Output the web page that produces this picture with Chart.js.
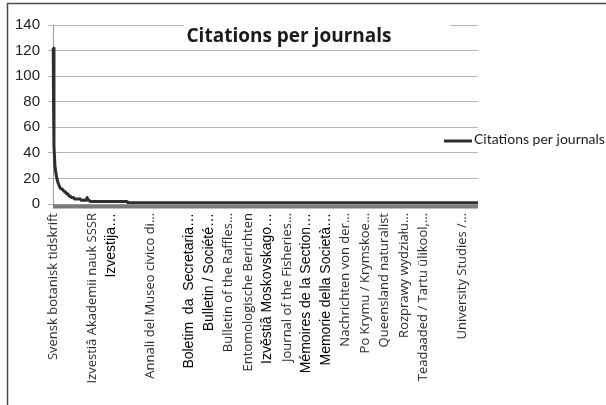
<!DOCTYPE html>
<html>
<head>
<meta charset="utf-8">
<title>Citations per journals</title>
<script src="https://cdn.jsdelivr.net/npm/chart.js@4.4.1/dist/chart.umd.min.js"></script>
<style>
  html, body { margin: 0; padding: 0; background: #fff; }
  #wrap { position: relative; width: 606px; height: 405px; }
</style>
</head>
<body>
<div id="wrap"><canvas id="chart" width="606" height="405"></canvas></div>
<script>
// Journals ranked by citations; only every 20th journal carries a label.
const journalsPerLabel = 20;
const tickLabels = [
  'Svensk botanisk tidskrift',
  '',
  'Izvestiâ Akademii nauk SSSR',
  'Izvestija…',
  '',
  'Annali del Museo civico di…',
  '',
  'Boletim  da  Secretaria…',
  'Bulletin / Société…',
  'Bulletin of the Raffles…',
  'Entomologische Berichten',
  'Izvěstiâ Moskovskago…',
  'Journal of the Fisheries…',
  'Mémoires de la Section…',
  'Memorie della Società…',
  'Nachrichten von der…',
  'Po Krymu / Krymskoe…',
  'Queensland naturalist',
  'Rozprawy wydziału…',
  'Teadaaded / Tartu ülikool,…',
  '',
  'University Studies /…'
];

// Citation counts as runs: runCitations[k] citations for runJournalCounts[k] consecutive journals.
const runCitations     = [122, 45, 30, 24, 20, 17, 15, 13, 12, 11, 10, 9, 8, 7, 6, 5, 4, 3, 5, 3, 2, 1];
const runJournalCounts = [  1,  1,  1,  1,  1,  1,  1,  1,  2,  1,  2, 1, 2, 1, 2, 3, 7, 6, 1, 2, 39, 360];

const yTicks = [0, 20, 40, 60, 80, 100, 120, 140];
const seriesName = 'Citations per journals';

// Expand the runs into one value per journal, and one category per journal.
const citations = [];
runCitations.forEach((c, k) => {
  for (let j = 0; j < runJournalCounts[k]; j++) citations.push(c);
});
const categories = citations.map((_, i) =>
  i % journalsPerLabel === 0 ? (tickLabels[i / journalsPerLabel] || '') : '');

// Labels set in the heavier face.
const heavySlots = new Set([3, 7, 8, 11, 13, 14]);

const LINE = '#2e2e2e';

const framePlugin = {
  id: 'frame',
  beforeDraw(chart) {
    const ctx = chart.ctx;
    ctx.save();
    ctx.fillStyle = '#fff';
    ctx.fillRect(0, 0, chart.width, chart.height);
    ctx.strokeStyle = '#4a4a4a';
    ctx.lineWidth = 1.5;
    ctx.beginPath();
    ctx.moveTo(7.5, chart.height);
    ctx.lineTo(7.5, 3.5);
    ctx.lineTo(chart.width, 3.5);
    ctx.stroke();
    ctx.restore();
  }
};

const axisBandPlugin = {
  id: 'axisBand',
  beforeDatasetsDraw(chart) {
    const { ctx, chartArea } = chart;
    ctx.save();
    ctx.fillStyle = '#7a7a7a';
    ctx.fillRect(chartArea.left, chartArea.bottom + 0.5, chartArea.right - chartArea.left, 4);
    ctx.restore();
  }
};

const titleLegendPlugin = {
  id: 'titleLegend',
  afterDraw(chart) {
    const { ctx } = chart;
    ctx.save();
    // title on a white panel over the top of the plot
    ctx.fillStyle = '#fff';
    ctx.fillRect(184, 17, 266, 29);
    ctx.fillStyle = '#1a1a1a';
    ctx.font = 'bold 19px "Open Sans"';
    ctx.textAlign = 'center';
    ctx.textBaseline = 'alphabetic';
    ctx.fillText('Citations per journals', 289, 42);

    // legend entry
    ctx.strokeStyle = LINE;
    ctx.lineWidth = 3;
    ctx.beginPath();
    ctx.moveTo(444, 141);
    ctx.lineTo(472, 141);
    ctx.stroke();
    ctx.fillStyle = '#1a1a1a';
    ctx.font = '14px Lato';
    ctx.textAlign = 'left';
    ctx.textBaseline = 'middle';
    ctx.fillText(seriesName, 474, 139);
    ctx.restore();
  }
};

new Chart(document.getElementById('chart'), {
  type: 'line',
  data: {
    labels: categories,
    datasets: [{
      label: seriesName,
      data: citations,
      borderColor: LINE,
      borderWidth: 3,
      pointRadius: 0,
      tension: 0,
      fill: false,
      borderJoinStyle: 'round'
    }]
  },
  options: {
    responsive: false,
    animation: false,
    devicePixelRatio: 1,
    layout: { padding: { top: 25, right: 128, bottom: 0, left: 0 } },
    plugins: {
      legend: { display: false },
      title: { display: false },
      tooltip: { enabled: false }
    },
    scales: {
      x: {
        type: 'category',
        offset: false,
        grid: { display: false, drawTicks: false },
        border: { display: false },
        afterBuildTicks(scale) {
          scale.ticks = scale.ticks.filter(t => t.value % journalsPerLabel === 0);
        },
        afterFit(scale) { scale.height = 201; },
        ticks: {
          autoSkip: false,
          minRotation: 90,
          maxRotation: 90,
          padding: 9,
          color: (c) => heavySlots.has(c.index) ? '#000' : '#2a2a2a',
          font: (c) => heavySlots.has(c.index)
            ? { family: 'Liberation Sans', size: 14 }
            : { family: 'Open Sans', size: 13 }
        }
      },
      y: {
        min: 0,
        max: 140,
        afterBuildTicks(scale) {
          scale.ticks = yTicks.map(v => ({ value: v }));
        },
        afterFit(scale) { scale.width = 53; },
        grid: { color: '#b4b4b4', lineWidth: 1, tickLength: 5, drawTicks: true },
        border: { display: true, color: '#9a9a9a', width: 1 },
        ticks: {
          padding: 8,
          color: '#222',
          font: { family: 'Liberation Sans', size: 15 }
        }
      }
    }
  },
  plugins: [framePlugin, axisBandPlugin, titleLegendPlugin]
});
</script>
</body>
</html>
